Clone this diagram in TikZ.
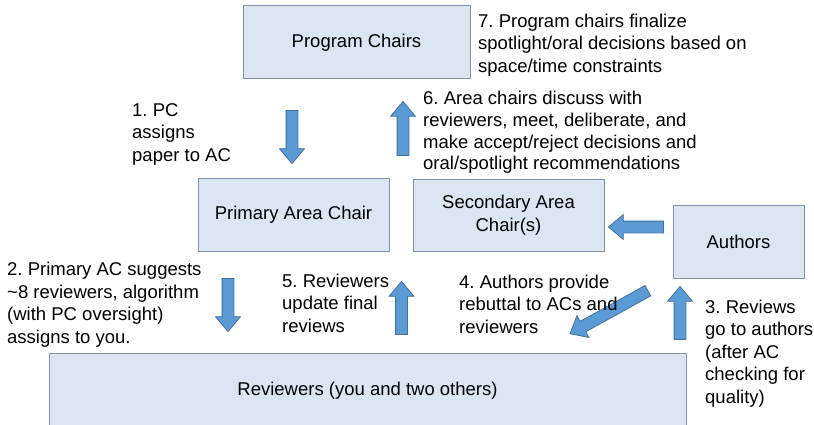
\documentclass[tikz,border=0pt]{standalone}
\usepackage{fontspec}
\setmainfont{Liberation Sans}
\usepackage{xcolor}
\usetikzlibrary{shapes.arrows}
\frenchspacing
\definecolor{boxfill}{HTML}{DCE6F2}
\definecolor{boxline}{HTML}{8093AE}
\definecolor{arrfill}{HTML}{5B9BD5}
\definecolor{arrline}{HTML}{41719C}
\tikzset{
  box/.style={draw=boxline,line width=1pt,fill=boxfill,align=center,inner sep=0pt,font=\fontsize{18.5}{22.5}\selectfont},
  blk/.style={single arrow,draw=arrline,line width=0.8pt,fill=arrfill,inner xsep=0pt,inner ysep=5.5pt,single arrow head extend=6.5pt,single arrow tip angle=80,single arrow head indent=0pt},
  lbl/.style={anchor=base west,align=left,inner sep=0pt,font=\fontsize{18.5}{22.5}\selectfont}
}
\begin{document}
\begin{tikzpicture}[x=1pt,y=-1pt]
\useasboundingbox (0,0) rectangle (814,425);
\node[box,minimum width=227pt,minimum height=73pt] (pc) at (356.5,42.5) {Program Chairs};
\node[box,minimum width=191pt,minimum height=73pt] (pac) at (293.5,214.5) {Primary Area Chair};
\node[box,minimum width=191pt,minimum height=72pt] (sac) at (508.5,215) {Secondary Area\\Chair(s)};
\node[box,minimum width=131pt,minimum height=73pt] (auth) at (738.5,241.5) {Authors};
\node[box,minimum width=637pt,minimum height=75pt] (rev) at (367.5,390.5) {Reviewers (you and two others)};
\node[blk,minimum height=53pt,rotate=-90] (a1) at (292,133.5) {};
\node[blk,minimum height=53pt,rotate=-90] (a2) at (228,301.5) {};
\node[blk,minimum height=53pt,rotate=90] (a3) at (680,316.5) {};
\node[blk,minimum height=89pt,rotate=208.9] (a4) at (612,310.5) {};
\node[blk,minimum height=53pt,rotate=90] (a5) at (401.5,311.5) {};
\node[blk,minimum height=54pt,rotate=90] (a6) at (403,132) {};
\node[blk,minimum height=55pt,rotate=180] (aa) at (639.5,227) {};
% anchors sit on the last line
\node[lbl] (t1) at (132,161) {1. PC\\assigns\\paper to AC};
\node[lbl] (t2) at (7,343) {2. Primary AC suggests\\\textasciitilde8 reviewers, algorithm\\(with PC oversight)\\assigns to you.};
\node[lbl] (t3) at (705,403) {3. Reviews\\go to authors\\(after AC\\checking for\\quality)};
\node[lbl] (t4) at (459,333) {4. Authors provide\\rebuttal to ACs and\\reviewers};
\node[lbl] (t5) at (282,332) {5. Reviewers\\update final\\reviews};
\node[lbl,font=\fontsize{18.5}{21.8}\selectfont] (t6) at (423,170) {6. Area chairs discuss with\\reviewers, meet, deliberate, and\\make accept/reject decisions and\\oral/spotlight recommendations};
\node[lbl] (t7) at (478,72.5) {7. Program chairs finalize\\spotlight/oral decisions based on\\space/time constraints};
\end{tikzpicture}
\end{document}
